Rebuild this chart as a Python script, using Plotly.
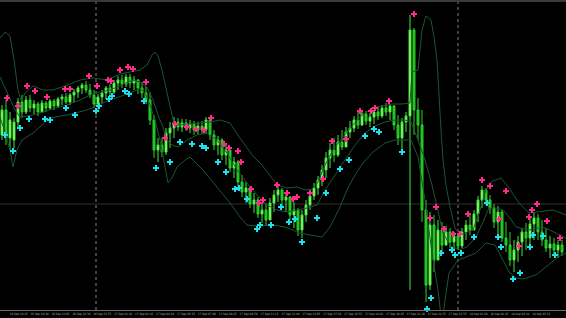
import plotly.graph_objects as go

# ---------------- data ----------------
highs = [1.1695,1.1700,1.1688,1.1682,1.1702,1.1705,1.1704,1.1705,1.1700,1.1698,
         1.1700,1.1699,1.1701,1.1701,1.1703,1.1706,1.1707,1.1707,1.1711,1.1714,
         1.1717,1.1719,1.1716,1.1710,1.1706,1.1710,1.1714,1.1716,1.1720,1.1724,
         1.1725,1.1726,1.1726,1.1724,1.1721,1.1718,1.1714,1.1708,1.1685,1.1662,
         1.1662,1.1672,1.1678,1.1683,1.1682,1.1681,1.1681,1.1680,1.1679,1.1678,
         1.1679,1.1683,1.1682,1.1670,1.1664,1.1662,1.1657,1.1650,1.1643,1.1640,
         1.1625,1.1618,1.1613,1.1607,1.1603,1.1598,1.1597,1.1602,1.1610,1.1616,
         1.1612,1.1608,1.1604,1.1598,1.1592,1.1590,1.1600,1.1608,1.1617,1.1624,
         1.1635,1.1648,1.1657,1.1662,1.1665,1.1670,1.1673,1.1679,1.1684,1.1688,
         1.1690,1.1689,1.1687,1.1690,1.1693,1.1695,1.1697,1.1696,1.1695,1.1685,
         1.1682,1.1688,1.1785,1.1772,1.1702,1.1690,1.1600,1.1588,1.1585,1.1580,
         1.1578,1.1574,1.1572,1.1568,1.1566,1.1572,1.1580,1.1586,1.1590,1.1604,
         1.1614,1.1612,1.1605,1.1596,1.1594,1.1590,1.1578,1.1568,1.1560,1.1564,
         1.1572,1.1577,1.1582,1.1588,1.1586,1.1580,1.1572,1.1564,1.1562,1.1560,1.1560]
lows = [1.1660,1.1655,1.1650,1.1652,1.1672,1.1682,1.1686,1.1688,1.1686,1.1684,
        1.1687,1.1688,1.1690,1.1690,1.1692,1.1695,1.1696,1.1695,1.1698,1.1702,
        1.1706,1.1707,1.1702,1.1692,1.1690,1.1697,1.1701,1.1704,1.1706,1.1710,
        1.1712,1.1713,1.1712,1.1710,1.1706,1.1702,1.1696,1.1675,1.1642,1.1638,
        1.1643,1.1645,1.1652,1.1662,1.1669,1.1668,1.1669,1.1667,1.1665,1.1666,
        1.1666,1.1667,1.1660,1.1650,1.1645,1.1640,1.1635,1.1628,1.1622,1.1614,
        1.1603,1.1597,1.1592,1.1587,1.1582,1.1577,1.1574,1.1580,1.1588,1.1598,
        1.1594,1.1588,1.1580,1.1572,1.1564,1.1562,1.1578,1.1590,1.1600,1.1605,
        1.1614,1.1622,1.1632,1.1638,1.1643,1.1650,1.1653,1.1662,1.1668,1.1671,
        1.1674,1.1675,1.1673,1.1676,1.1680,1.1682,1.1684,1.1680,1.1670,1.1655,
        1.1650,1.1668,1.1510,1.1665,1.1660,1.1578,1.1498,1.1510,1.1528,1.1544,
        1.1548,1.1554,1.1552,1.1549,1.1550,1.1552,1.1560,1.1565,1.1570,1.1578,
        1.1592,1.1595,1.1586,1.1572,1.1564,1.1558,1.1548,1.1534,1.1528,1.1538,
        1.1544,1.1550,1.1556,1.1560,1.1560,1.1554,1.1548,1.1542,1.1544,1.1542,1.1544]
opens = [1.1665,1.1690,1.1662,1.1660,1.1678,1.1698,1.1688,1.1700,1.1692,1.1696,
         1.1688,1.1697,1.1692,1.1699,1.1694,1.1701,1.1703,1.1698,1.1705,1.1708,
         1.1712,1.1715,1.1710,1.1705,1.1696,1.1703,1.1707,1.1712,1.1708,1.1717,
         1.1720,1.1716,1.1723,1.1717,1.1720,1.1712,1.1707,1.1700,1.1680,1.1650,
         1.1655,1.1648,1.1667,1.1672,1.1678,1.1673,1.1677,1.1672,1.1676,1.1670,
         1.1674,1.1670,1.1680,1.1665,1.1655,1.1660,1.1645,1.1650,1.1632,1.1638,
         1.1618,1.1608,1.1612,1.1596,1.1600,1.1586,1.1590,1.1580,1.1597,1.1605,
         1.1610,1.1600,1.1603,1.1585,1.1590,1.1570,1.1585,1.1595,1.1604,1.1612,
         1.1620,1.1630,1.1642,1.1650,1.1645,1.1658,1.1653,1.1668,1.1672,1.1680,
         1.1675,1.1686,1.1679,1.1683,1.1688,1.1684,1.1692,1.1688,1.1694,1.1675,
         1.1662,1.1678,1.1684,1.1770,1.1690,1.1675,1.1590,1.1515,1.1575,1.1540,
         1.1570,1.1555,1.1568,1.1558,1.1564,1.1554,1.1568,1.1575,1.1570,1.1586,
         1.1600,1.1610,1.1600,1.1592,1.1578,1.1588,1.1562,1.1555,1.1540,1.1550,
         1.1558,1.1568,1.1562,1.1576,1.1582,1.1568,1.1560,1.1552,1.1556,1.1550,1.1555]
closes = [1.1690,1.1662,1.1680,1.1678,1.1698,1.1688,1.1700,1.1692,1.1696,1.1688,
          1.1697,1.1692,1.1699,1.1694,1.1701,1.1703,1.1698,1.1705,1.1708,1.1712,
          1.1715,1.1710,1.1705,1.1696,1.1703,1.1707,1.1712,1.1708,1.1717,1.1720,
          1.1716,1.1723,1.1717,1.1720,1.1712,1.1707,1.1700,1.1680,1.1650,1.1655,
          1.1648,1.1667,1.1672,1.1678,1.1673,1.1677,1.1672,1.1676,1.1670,1.1674,
          1.1670,1.1680,1.1665,1.1655,1.1660,1.1645,1.1650,1.1632,1.1638,1.1618,
          1.1608,1.1612,1.1596,1.1600,1.1586,1.1590,1.1580,1.1597,1.1605,1.1610,
          1.1600,1.1603,1.1585,1.1590,1.1570,1.1585,1.1595,1.1604,1.1612,1.1620,
          1.1630,1.1642,1.1650,1.1645,1.1658,1.1653,1.1668,1.1672,1.1680,1.1675,
          1.1686,1.1679,1.1683,1.1688,1.1684,1.1692,1.1688,1.1694,1.1675,1.1662,
          1.1678,1.1684,1.1770,1.1690,1.1675,1.1590,1.1515,1.1575,1.1540,1.1570,
          1.1555,1.1568,1.1558,1.1564,1.1554,1.1568,1.1575,1.1570,1.1586,1.1600,
          1.1610,1.1600,1.1592,1.1578,1.1588,1.1562,1.1555,1.1540,1.1550,1.1558,
          1.1568,1.1562,1.1576,1.1582,1.1568,1.1560,1.1552,1.1556,1.1550,1.1555,1.1548]

# band lines (bar index, price)
upper_x = [-0.5,0.75,2.0,3.0,4.0,4.75,6.0,7.75,10.25,12.75,15.75,19.5,22.75,26.25,29.5,32.0,
           34.5,36.25,37.5,38.25,39.0,40.0,41.0,42.0,43.0,44.5,47.0,49.5,52.0,54.5,57.0,58.75,
           60.75,62.75,65.0,67.0,68.75,71.25,73.75,75.75,77.5,79.0,80.75,82.75,85.0,87.5,90.0,
           92.5,95.0,97.5,100.0,102.0,102.5,104.0,105.0,106.0,107.25,108.0,108.75,109.25,109.75,
           110.25,111.0,112.0,113.25,114.5,116.0,117.75,119.5,121.0,122.25,124.75,126.75,129.25,
           131.75,134.25,137.75,141.0]
upper_y = [1.1762,1.1768,1.1764,1.1740,1.1710,1.1700,1.1708,1.1714,1.1710,1.1710,1.1714,1.1720,
           1.1722,1.1720,1.1726,1.1728,1.1730,1.1735,1.1745,1.1748,1.1744,1.1730,1.1712,1.1693,
           1.1676,1.1675,1.1676,1.1677,1.1678,1.1680,1.1677,1.1666,1.1655,1.1644,1.1635,1.1624,
           1.1615,1.1612,1.1613,1.1610,1.1611,1.1618,1.1635,1.1650,1.1662,1.1674,1.1685,1.1692,
           1.1694,1.1696,1.1696,1.1697,1.1728,1.1730,1.1770,1.1784,1.1780,1.1763,1.1740,1.1700,
           1.1670,1.1640,1.1615,1.1593,1.1572,1.1565,1.1567,1.1570,1.1590,1.1610,1.1618,1.1622,
           1.1612,1.1597,1.1587,1.1588,1.1590,1.1585]
middle_x = [-0.5,1.5,3.25,4.5,7.75,10.25,13.25,16.25,19.5,22.0,24.5,27.0,30.0,32.75,34.5,36.25,
            37.75,39.0,40.25,41.25,42.5,44.0,46.25,48.75,51.25,53.75,56.25,58.75,61.25,63.75,
            66.25,68.75,71.25,73.75,76.25,78.75,80.75,83.25,85.75,88.25,90.75,93.25,95.75,98.25,
            100.75,102.25,104.0,105.75,107.5,109.0,110.25,112.0,114.25,116.25,118.5,120.25,121.75,
            123.5,125.25,127.0,128.5,131.75,135.25,138.5,141.0]
middle_y = [1.1723,1.1705,1.1690,1.1683,1.1685,1.1688,1.1692,1.1695,1.1700,1.1705,1.1708,1.1710,
            1.1715,1.1720,1.1718,1.1713,1.1700,1.1685,1.1673,1.1660,1.1655,1.1653,1.1660,1.1665,
            1.1667,1.1660,1.1647,1.1630,1.1617,1.1605,1.1595,1.1590,1.1588,1.1590,1.1592,1.1595,
            1.1610,1.1625,1.1640,1.1655,1.1667,1.1674,1.1678,1.1680,1.1680,1.1678,1.1660,1.1640,
            1.1615,1.1590,1.1567,1.1555,1.1550,1.1553,1.1563,1.1578,1.1592,1.1592,1.1590,1.1582,
            1.1573,1.1570,1.1573,1.1567,1.1562]
lower_x = [-0.5,0.75,2.0,2.75,3.75,5.0,7.75,12.0,16.25,21.25,27.0,30.75,32.75,34.5,36.0,37.0,
           38.25,39.5,40.5,41.5,42.5,43.75,45.75,47.0,50.25,53.75,57.0,59.5,61.25,63.75,67.75,
           70.75,74.5,77.0,80.0,82.0,84.5,86.25,88.25,90.25,92.75,95.75,98.25,100.75,102.25,
           104.0,105.75,107.5,109.0,110.0,110.75,111.75,114.0,116.0,118.5,121.0,123.25,125.0,
           126.75,128.5,130.25,133.5,136.0,139.0,141.0]
lower_y = [1.1683,1.1668,1.1650,1.1633,1.1650,1.1660,1.1667,1.1682,1.1685,1.1690,1.1700,1.1705,
           1.1708,1.1712,1.1705,1.1695,1.1680,1.1660,1.1640,1.1617,1.1622,1.1633,1.1640,1.1643,
           1.1630,1.1613,1.1597,1.1583,1.1575,1.1574,1.1575,1.1573,1.1567,1.1565,1.1563,1.1573,
           1.1593,1.1610,1.1625,1.1637,1.1648,1.1657,1.1660,1.1660,1.1660,1.1643,1.1600,1.1547,
           1.1510,1.1475,1.1500,1.1527,1.1540,1.1543,1.1547,1.1557,1.1555,1.1542,1.1528,1.1522,
           1.1521,1.1525,1.1533,1.1543,1.1547]

# signal arrows
sell_x = [1.25,4.0,6.25,8.25,11.25,15.75,17.0,21.75,23.75,26.5,27.25,29.5,31.5,32.75,36.0,
          40.75,43.25,46.25,48.5,50.5,52.25,55.5,56.75,59.0,59.75,62.25,64.25,65.25,68.75,71.25,
          72.75,73.75,77.0,80.25,82.5,86.0,89.5,92.25,93.25,96.75,103.0,107.0,108.5,110.5,112.75,
          114.5,116.5,120.0,122.0,124.25,126.0,129.25,131.75,132.5,133.75,136.25,139.5]
sell_y = [1.1702,1.1694,1.1714,1.1709,1.1703,1.1711,1.1711,1.1724,1.1714,1.1720,1.1719,1.1730,
          1.1733,1.1731,1.1718,1.1662,1.1676,1.1673,1.1671,1.1670,1.1682,1.1656,1.1652,1.1649,
          1.1638,1.1611,1.1597,1.1600,1.1615,1.1607,1.1601,1.1603,1.1607,1.1621,1.1659,1.1661,
          1.1689,1.1689,1.1692,1.1699,1.1786,1.1582,1.1593,1.1571,1.1566,1.1566,1.1586,1.1620,
          1.1614,1.1581,1.1609,1.1554,1.1583,1.1590,1.1596,1.1579,1.1562]
buy_x = [0.75,2.75,4.5,6.75,10.75,12.0,16.0,18.25,23.5,24.25,26.75,27.5,30.75,31.75,35.5,38.5,
         42.0,44.5,47.5,50.0,51.0,54.0,56.0,58.25,59.25,61.25,63.75,64.5,67.25,69.75,71.75,73.25,
         75.0,78.75,81.0,84.5,86.75,90.75,93.0,94.25,100.0,106.25,107.25,109.75,112.5,113.25,
         114.75,118.0,121.25,124.0,124.75,127.75,129.5,132.0,132.75,135.25,138.25]
buy_y = [1.1665,1.1649,1.1672,1.1681,1.1681,1.1680,1.1692,1.1685,1.1689,1.1694,1.1701,1.1704,
         1.1709,1.1706,1.1699,1.1632,1.1638,1.1658,1.1656,1.1654,1.1652,1.1638,1.1628,1.1611,
         1.1612,1.1601,1.1571,1.1575,1.1575,1.1593,1.1578,1.1581,1.1558,1.1582,1.1607,1.1631,
         1.1640,1.1664,1.1671,1.1668,1.1648,1.1491,1.1502,1.1547,1.1550,1.1545,1.1547,1.1563,
         1.1597,1.1563,1.1553,1.1521,1.1527,1.1553,1.1565,1.1564,1.1545]

# time axis labels (bar index of each label)
tick_bars = [2.43,7.65,12.88,18.1,23.33,28.55,33.78,39.0,44.23,49.45,54.68,59.9,65.13,70.35,
             75.58,80.8,86.03,91.25,96.48,101.7,106.93,112.15,117.38,122.6,127.83,133.05,138.28]
tick_text = ["16 Sep 18:15","16 Sep 19:40","16 Sep 21:05","16 Sep 22:30","16 Sep 23:55",
             "17 Sep 01:20","17 Sep 02:45","17 Sep 04:10","17 Sep 05:35","17 Sep 07:00",
             "17 Sep 08:25","17 Sep 09:50","17 Sep 11:15","17 Sep 12:40","17 Sep 14:05",
             "17 Sep 15:30","17 Sep 16:55","17 Sep 18:20","17 Sep 19:45","17 Sep 21:10",
             "17 Sep 22:35","17 Sep 23:55","18 Sep 01:20","18 Sep 02:45","18 Sep 04:10",
             "18 Sep 05:35","18 Sep 07:00"]

day_separators = [23.5, 114.0]
level_line = 1.1596

# ---------------- figure ----------------
bars = list(range(len(closes)))
fig = go.Figure()

band_color = "#1b5632"
for bx, by in ((upper_x, upper_y), (middle_x, middle_y), (lower_x, lower_y)):
    fig.add_trace(go.Scatter(x=bx, y=by, mode="lines", line=dict(color=band_color, width=1),
                             hoverinfo="skip", showlegend=False))

fig.add_trace(go.Candlestick(
    x=bars, open=opens, high=highs, low=lows, close=closes,
    increasing=dict(line=dict(color="#3ee83e", width=1), fillcolor="#b4ff78"),
    decreasing=dict(line=dict(color="#2ad42a", width=1), fillcolor="#1cb81c"),
    whiskerwidth=0, hoverinfo="skip", showlegend=False))

fig.add_trace(go.Scatter(x=sell_x, y=sell_y, mode="markers",
                         marker=dict(symbol="cross", size=5, color="#ff2a8c", line=dict(width=0)),
                         cliponaxis=False, hoverinfo="skip", showlegend=False))
fig.add_trace(go.Scatter(x=buy_x, y=buy_y, mode="markers",
                         marker=dict(symbol="cross", size=5, color="#1fe0f0", line=dict(width=0)),
                         cliponaxis=False, hoverinfo="skip", showlegend=False))

shapes = []
for s in day_separators:
    shapes.append(dict(type="line", xref="x", yref="paper", x0=s, x1=s, y0=0, y1=1,
                       line=dict(color="#808080", width=1, dash="dot"), layer="below"))
shapes.append(dict(type="line", xref="paper", yref="y", x0=0, x1=1, y0=level_line, y1=level_line,
                   line=dict(color="#303030", width=1), layer="below"))
shapes.append(dict(type="rect", xref="paper", yref="paper", x0=0, x1=1, y0=1, y1=1.008,
                   line=dict(width=0), fillcolor="#3a3a3a", layer="above"))

fig.update_layout(
    width=566, height=318,
    margin=dict(l=0, r=0, t=2, b=8, autoexpand=False),
    paper_bgcolor="#000000", plot_bgcolor="#000000",
    showlegend=False, shapes=shapes, hovermode=False,
    xaxis=dict(range=[-0.5, 141.0], rangeslider=dict(visible=False), showgrid=False,
               zeroline=False, showline=True, linecolor="#6e6e6e", linewidth=1,
               tickmode="array", tickvals=tick_bars, ticktext=tick_text, ticks="",
               tickangle=0, automargin=False,
               ticklabelshift=7, ticklabelstandoff=0,
               tickfont=dict(family="Liberation Sans Narrow, DejaVu Sans Condensed, Liberation Sans",
                             size=3, color="#b0b0b0")),
    yaxis=dict(range=[1.1490, 1.1798], showgrid=False, zeroline=False, showticklabels=False,
               showline=False, automargin=False),
)

fig.write_html("out.html")
